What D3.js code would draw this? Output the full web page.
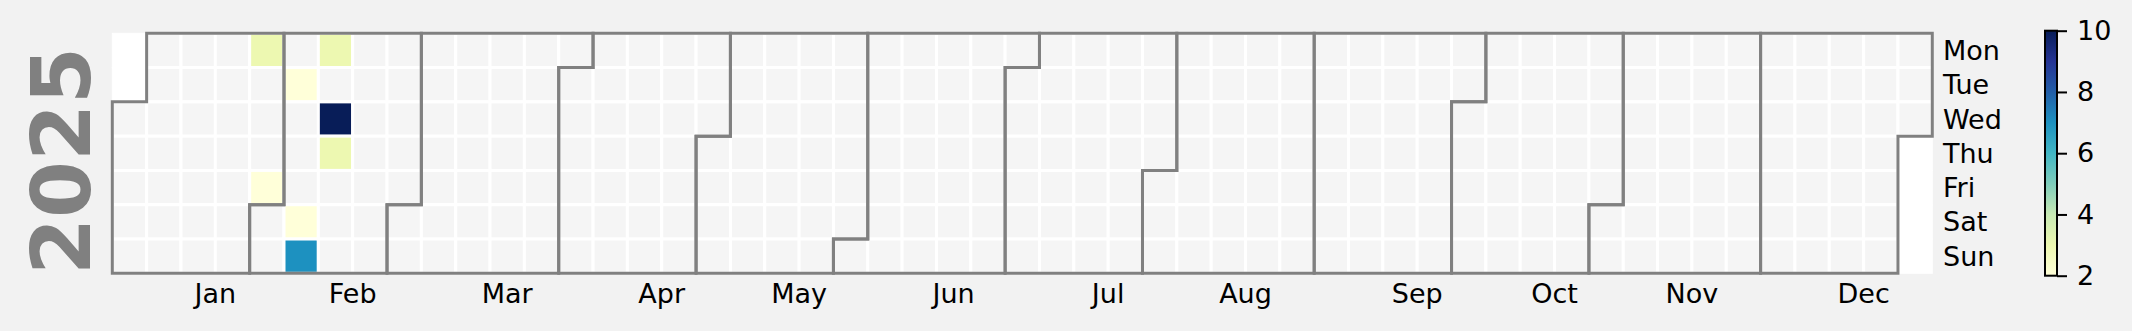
<!DOCTYPE html>
<html><head><meta charset="utf-8">
<script src="https://cdn.jsdelivr.net/npm/d3@7"></script>
<style>html,body{margin:0;padding:0;background:#f2f2f2;}svg{display:block;}text{font-family:"DejaVu Sans",sans-serif;}</style>
</head><body>
<script>
const year = 2025;
const dates = ["2025-01-27","2025-01-31","2025-02-04","2025-02-08","2025-02-09","2025-02-10","2025-02-12","2025-02-13"];
const values = [3, 2, 2, 2, 7, 3, 10, 3];
const dayLabels = ["Mon","Tue","Wed","Thu","Fri","Sat","Sun"];
const monthLabels = ["Jan","Feb","Mar","Apr","May","Jun","Jul","Aug","Sep","Oct","Nov","Dec"];
const cbTicks = [2, 4, 6, 8, 10];
const ylgnbu = ["#ffffd9","#edf8b1","#c7e9b4","#7fcdbb","#41b6c4","#1d91c0","#225ea8","#253494","#081d58"];

const W = 2132, H = 331;
const svg = d3.select("body").append("svg").attr("width", W).attr("height", H);
svg.append("rect").attr("width", W).attr("height", H).attr("fill", "#f2f2f2");

const x = d3.scaleLinear().domain([0, 53]).range([112.3, 1932.3]);
const y = d3.scaleLinear().domain([0, 7]).range([33.3, 273.3]);
const vmin = d3.min(values), vmax = d3.max(values);
const color = d3.scaleLinear()
  .domain(ylgnbu.map((c, i) => vmin + (vmax - vmin) * i / (ylgnbu.length - 1)))
  .range(ylgnbu).interpolate(d3.interpolateRgb);

const start = new Date(year, 0, 1);
const startWd = (start.getDay() + 6) % 7;
const days = d3.timeDay.range(start, new Date(year + 1, 0, 1));
const fmt = d3.timeFormat("%Y-%m-%d");
const valMap = new Map(dates.map((d, i) => [d, values[i]]));
function pos(d) {
  const doy = d3.timeDay.count(start, d);
  return { c: Math.floor((doy + startWd) / 7), r: (d.getDay() + 6) % 7 };
}

// all grid slots (out-of-year = white)
const slots = [];
for (let c = 0; c < 53; c++) for (let r = 0; r < 7; r++) slots.push({ c, r });
const inYear = new Set(days.map(d => { const p = pos(d); return p.c + "_" + p.r; }));
svg.append("g").selectAll("rect").data(slots.filter(s => !inYear.has(s.c + "_" + s.r))).join("rect")
  .attr("x", d => x(d.c)).attr("y", d => y(d.r))
  .attr("width", x(1) - x(0)).attr("height", y(1) - y(0))
  .attr("fill", "#ffffff").attr("stroke", "#ffffff").attr("stroke-width", 1);

svg.append("g").selectAll("rect").data(days).join("rect")
  .attr("x", d => x(pos(d).c)).attr("y", d => y(pos(d).r))
  .attr("width", x(1) - x(0)).attr("height", y(1) - y(0))
  .attr("fill", d => valMap.has(fmt(d)) ? color(valMap.get(fmt(d))) : "#f5f5f5")
  .attr("stroke", "#ffffff").attr("stroke-width", 3);

// month borders
const months = d3.range(12).map(m => {
  const f = new Date(year, m, 1), l = new Date(year, m + 1, 0);
  const pf = pos(f), pl = pos(l);
  return { m, pf, pl };
});
const line = d3.line().x(p => x(p[0])).y(p => y(p[1]));
svg.append("g").selectAll("path").data(months).join("path")
  .attr("d", d => {
    const { pf, pl } = d;
    return line([[pf.c, 7], [pf.c, pf.r], [pf.c + 1, pf.r], [pf.c + 1, 0], [pl.c + 1, 0],
      [pl.c + 1, pl.r + 1], [pl.c, pl.r + 1], [pl.c, 7]]) + "Z";
  })
  .attr("fill", "none").attr("stroke", "#808080").attr("stroke-width", 3).attr("stroke-linejoin", "miter");

// month labels
svg.append("g").selectAll("text").data(months).join("text")
  .attr("x", d => x(d.pf.c + (d.pl.c - d.pf.c + 1) / 2 + 0.5)).attr("y", 303)
  .attr("text-anchor", "middle").attr("font-size", 27).attr("fill", "#000")
  .text(d => monthLabels[d.m]);

// day labels
svg.append("g").selectAll("text").data(dayLabels).join("text")
  .attr("x", 1943).attr("y", (d, i) => y(i + 0.5) + 9.5)
  .attr("font-size", 27).attr("fill", "#000").text(d => d);

// year label
svg.append("text").attr("transform", "translate(90,161) rotate(-90)")
  .attr("text-anchor", "middle").attr("font-size", 82).attr("font-weight", "bold")
  .attr("fill", "#808080").text(year);

// colorbar
const cbX = 2045, cbW = 12;
const cy = d3.scaleLinear().domain([vmin, vmax]).range([275.7, 30.7]);
const grad = svg.append("defs").append("linearGradient").attr("id", "cbg")
  .attr("x1", 0).attr("y1", 1).attr("x2", 0).attr("y2", 0);
ylgnbu.forEach((c, i) => grad.append("stop").attr("offset", i / (ylgnbu.length - 1)).attr("stop-color", c));
svg.append("rect").attr("x", cbX).attr("y", cy(vmax)).attr("width", cbW).attr("height", cy(vmin) - cy(vmax))
  .attr("fill", "url(#cbg)").attr("stroke", "#000").attr("stroke-width", 2);
const cbAxis = svg.append("g").attr("transform", `translate(${cbX + cbW},0)`)
  .call(d3.axisRight(cy).tickValues(cbTicks).tickSize(10).tickPadding(10).tickFormat(d3.format("d")));
cbAxis.select(".domain").remove();
cbAxis.selectAll(".tick line").attr("stroke", "#000").attr("stroke-width", 2);
cbAxis.selectAll(".tick text").attr("font-size", 27).attr("font-family", "DejaVu Sans").attr("fill", "#000");
</script>
</body></html>
